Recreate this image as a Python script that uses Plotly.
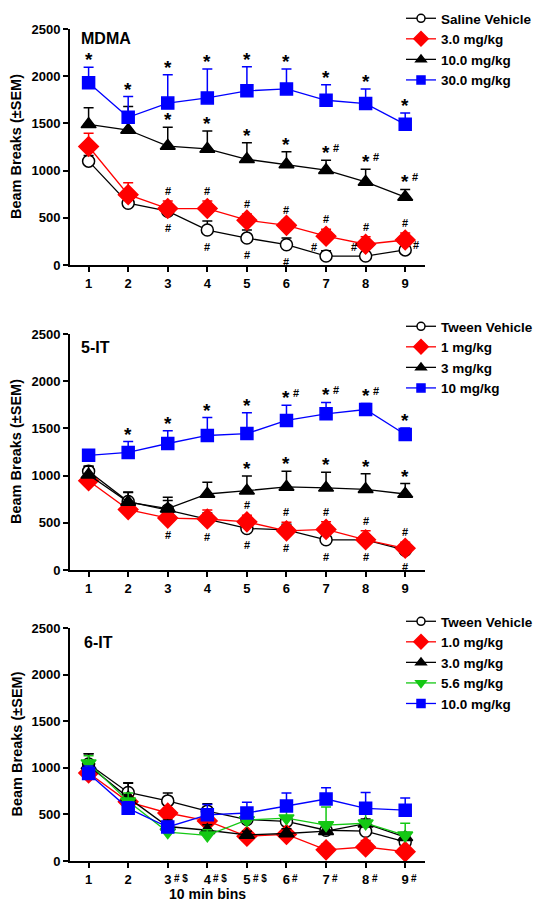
import plotly.graph_objects as go

bins = [1, 2, 3, 4, 5, 6, 7, 8, 9]
tick_labels = ["1", "2", "3", "4", "5", "6", "7", "8", "9"]

# ---- Panel 1: MDMA ----
mdma_names = ["Saline Vehicle", "3.0 mg/kg", "10.0 mg/kg", "30.0 mg/kg"]
mdma_sal = [1100, 655, 570, 370, 285, 215, 95, 95, 160]
mdma_sal_err = [60, 30, 70, 95, 85, 70, 55, 20, 50]
mdma_3 = [1255, 745, 598, 598, 475, 420, 305, 220, 265]
mdma_3_err = [140, 125, 80, 80, 65, 55, 75, 80, 75]
mdma_10 = [1490, 1430, 1260, 1230, 1120, 1065, 1005, 880, 720]
mdma_10_err = [175, 250, 200, 190, 175, 135, 105, 135, 80]
mdma_30 = [1930, 1565, 1715, 1770, 1845, 1865, 1745, 1710, 1490]
mdma_30_err = [165, 220, 300, 305, 255, 210, 165, 155, 120]

# ---- Panel 2: 5-IT ----
it5_names = ["Tween Vehicle", "1 mg/kg", "3 mg/kg", "10 mg/kg"]
it5_veh = [1045, 725, 635, 535, 440, 425, 320, 320, 210]
it5_veh_err = [55, 100, 100, 70, 60, 60, 50, 50, 50]
it5_1 = [945, 640, 550, 540, 510, 415, 430, 320, 230]
it5_1_err = [60, 50, 55, 95, 70, 90, 80, 95, 65]
it5_3 = [1010, 720, 650, 805, 840, 880, 870, 855, 805]
it5_3_err = [90, 100, 120, 125, 155, 165, 165, 165, 110]
it5_10 = [1215, 1245, 1340, 1425, 1445, 1585, 1655, 1700, 1435]
it5_10_err = [40, 115, 135, 190, 220, 160, 120, 65, 70]

# ---- Panel 3: 6-IT ----
it6_names = ["Tween Vehicle", "1.0 mg/kg", "3.0 mg/kg", "5.6 mg/kg", "10.0 mg/kg"]
it6_veh = [1040, 735, 645, 535, 445, 425, 330, 320, 205]
it6_veh_err = [110, 100, 85, 80, 60, 60, 50, 60, 50]
it6_1 = [945, 635, 515, 430, 265, 285, 120, 150, 100]
it6_1_err = [90, 50, 55, 55, 60, 40, 60, 70, 60]
it6_3 = [1025, 680, 370, 330, 280, 295, 320, 400, 255]
it6_3_err = [125, 160, 70, 60, 40, 50, 50, 50, 50]
it6_56 = [1050, 640, 310, 275, 440, 460, 385, 405, 275]
it6_56_err = [80, 90, 60, 60, 80, 90, 195, 130, 130]
it6_10 = [940, 565, 365, 495, 515, 590, 665, 565, 545]
it6_10_err = [80, 70, 60, 110, 115, 140, 120, 170, 130]
it6_tick_suffix = ["", "", "# $", "# $", "# $", "#", "#", "#", "#"]

# significance markers (bins)
mdma_star_30 = [1, 2, 3, 4, 5, 6, 7, 8, 9]
mdma_star_10 = [3, 4, 5, 6, 7, 8, 9]
mdma_hash_10 = [7, 8, 9]
mdma_hash_3 = [3, 4, 5, 6, 7, 8, 9]
mdma_hash_sal = [3, 4, 5, 6, 7, 8, 9]
it5_star_10 = [2, 3, 4, 5, 6, 7, 8, 9]
it5_hash_10 = [6, 7, 8]
it5_star_3 = [5, 6, 7, 8, 9]
it5_hash_1 = [5, 6, 7, 8, 9]
it5_hash_low = [3, 4, 5, 6, 7, 8, 9]

FONT = "Liberation Sans, Arial, sans-serif"
BLACK, RED, BLUE, GREEN = "#000000", "#ff0000", "#0000ff", "#14c814"

fig = go.Figure()


def add(name, vals, errs, color, symbol, size, xa, ya, leg, fill=None):
    fig.add_trace(go.Scatter(
        x=bins, y=vals, mode="lines+markers", name=name, showlegend=False,
        line=dict(color=color, width=1.3),
        marker=dict(symbol=symbol, size=size, color=fill or color,
                    line=dict(color=color, width=1.5)),
        error_y=dict(type="data", symmetric=False, array=errs,
                     arrayminus=[0] * len(errs), color=color,
                     thickness=1.5, width=5),
        xaxis=xa, yaxis=ya, cliponaxis=False))
    # legend entry with a smaller symbol, as in the original key
    fig.add_trace(go.Scatter(
        x=[None], y=[None], mode="lines+markers", name=name, showlegend=True,
        line=dict(color=color, width=1.3),
        marker=dict(symbol=symbol, size=max(size - 4, 8), color=fill or color,
                    line=dict(color=color, width=1.5)),
        xaxis=xa, yaxis=ya, legend=leg))


add(mdma_names[0], mdma_sal, mdma_sal_err, BLACK, "circle", 12, "x", "y", "legend", "white")
add(mdma_names[1], mdma_3, mdma_3_err, RED, "diamond", 15, "x", "y", "legend")
add(mdma_names[2], mdma_10, mdma_10_err, BLACK, "triangle-up", 13, "x", "y", "legend")
add(mdma_names[3], mdma_30, mdma_30_err, BLUE, "square", 12, "x", "y", "legend")

add(it5_names[0], it5_veh, it5_veh_err, BLACK, "circle", 12, "x2", "y2", "legend2", "white")
add(it5_names[1], it5_1, it5_1_err, RED, "diamond", 15, "x2", "y2", "legend2")
add(it5_names[2], it5_3, it5_3_err, BLACK, "triangle-up", 13, "x2", "y2", "legend2")
add(it5_names[3], it5_10, it5_10_err, BLUE, "square", 12, "x2", "y2", "legend2")

add(it6_names[0], it6_veh, it6_veh_err, BLACK, "circle", 12, "x3", "y3", "legend3", "white")
add(it6_names[1], it6_1, it6_1_err, RED, "diamond", 15, "x3", "y3", "legend3")
add(it6_names[2], it6_3, it6_3_err, BLACK, "triangle-up", 13, "x3", "y3", "legend3")
add(it6_names[3], it6_56, it6_56_err, GREEN, "triangle-down", 13, "x3", "y3", "legend3")
add(it6_names[4], it6_10, it6_10_err, BLUE, "square", 12, "x3", "y3", "legend3")

# layout geometry
W, H = 538, 902
ML, MR, MT, MB = 70, 113, 29, 41
PH = H - MT - MB


def py(px):
    return (H - MB - px) / PH


def pxx(px):
    return (px - ML) / (W - ML - MR)


doms = [(py(265), 1.0), (py(570), py(334)), (0.0, py(628))]

axis_common = dict(showline=True, linewidth=2, linecolor="black", ticks="outside",
                   ticklen=5, tickwidth=2, tickcolor="black", showgrid=False,
                   zeroline=False, tickfont=dict(family=FONT, size=13, color="black", weight="bold"))

layout = dict(width=W, height=H, margin=dict(l=ML, r=MR, t=MT, b=MB, autoexpand=False),
              paper_bgcolor="white", plot_bgcolor="white",
              font=dict(family=FONT, color="black"))
for i, (d0, d1) in enumerate(doms):
    sfx = "" if i == 0 else str(i + 1)
    layout["xaxis" + sfx] = dict(axis_common, domain=[0, 1], range=[0.53, 9.5],
                                 anchor="y" + sfx, tickvals=bins, ticktext=tick_labels)
    layout["yaxis" + sfx] = dict(axis_common, domain=[d0, d1], range=[0, 2500],
                                 anchor="x" + sfx, tickvals=[0, 500, 1000, 1500, 2000, 2500])

leg_common = dict(xanchor="left", yanchor="top", bgcolor="rgba(0,0,0,0)",
                  font=dict(family=FONT, size=13.5, color="black", weight="bold"),
                  tracegroupgap=0, itemwidth=30)
layout["legend"] = dict(leg_common, x=pxx(401), y=py(3))
layout["legend2"] = dict(leg_common, x=pxx(401), y=py(311))
layout["legend3"] = dict(leg_common, x=pxx(401), y=py(606))
fig.update_layout(**layout)

anns = []
# panel titles
for text, xp, yp in [("MDMA", 79, 39), ("5-IT", 79, 347), ("6-IT", 82, 642)]:
    anns.append(dict(text="<b>%s</b>" % text, xref="paper", yref="paper", x=pxx(xp), y=py(yp),
                     xanchor="left", yanchor="middle", showarrow=False,
                     font=dict(family=FONT, size=16, color="black")))
# y titles
for d0, d1 in doms:
    anns.append(dict(text="<b>Beam Breaks (\u00b1SEM)</b>", xref="paper", yref="paper",
                     x=pxx(16), y=(d0 + d1) / 2, textangle=-90, showarrow=False,
                     xanchor="center", yanchor="middle",
                     font=dict(family=FONT, size=14.5, color="black")))
# x title
anns.append(dict(text="<b>10 min bins</b>", xref="paper", yref="paper", x=pxx(207), y=py(894),
                 xanchor="center", yanchor="middle", showarrow=False,
                 font=dict(family=FONT, size=14, color="black")))
# tick suffixes panel 3
for b, s in zip(bins, it6_tick_suffix):
    if s:
        anns.append(dict(text="<b>%s</b>" % s, xref="x3", yref="paper", x=b, y=py(878),
                         xanchor="left", yanchor="middle", xshift=4, showarrow=False,
                         font=dict(family=FONT, size=10, color="black")))


def star(xr, yr, b, v, hash_after=False):
    anns.append(dict(text="<b>*</b>", xref=xr, yref=yr, x=b, y=v, xanchor="center",
                     yanchor="bottom", yshift=-5, showarrow=False,
                     font=dict(family=FONT, size=19, color="black")))
    if hash_after:
        anns.append(dict(text="<b>#</b>", xref=xr, yref=yr, x=b, y=v, xanchor="left",
                         yanchor="bottom", yshift=4, xshift=5, showarrow=False,
                         font=dict(family=FONT, size=11, color="black")))


def hash_(xr, yr, b, v, above=True, xshift=0, yshift=0, anchor=None):
    anns.append(dict(text="<b>#</b>", xref=xr, yref=yr, x=b, y=v, xanchor="center",
                     yanchor=anchor or ("bottom" if above else "top"),
                     yshift=(2 if above else -9) + yshift, xshift=xshift, showarrow=False,
                     font=dict(family=FONT, size=11, color="black")))


def top(vals, errs, b):
    return vals[b - 1] + errs[b - 1]


for b in mdma_star_30:
    star("x", "y", b, top(mdma_30, mdma_30_err, b))
for b in mdma_star_10:
    star("x", "y", b, top(mdma_10, mdma_10_err, b), b in mdma_hash_10)
for b in mdma_hash_3:
    hash_("x", "y", b, top(mdma_3, mdma_3_err, b))
for b in mdma_hash_sal:
    if b in (7, 8):
        hash_("x", "y", b, mdma_sal[b - 1], xshift=-12, yshift=7, anchor="middle")
    elif b == 9:
        hash_("x", "y", b, mdma_sal[b - 1], xshift=11, yshift=3, anchor="middle")
    else:
        hash_("x", "y", b, mdma_sal[b - 1], above=False)

for b in it5_star_10:
    star("x2", "y2", b, top(it5_10, it5_10_err, b), b in it5_hash_10)
for b in it5_star_3:
    star("x2", "y2", b, top(it5_3, it5_3_err, b))
for b in it5_hash_1:
    hash_("x2", "y2", b, top(it5_1, it5_1_err, b))
for b in it5_hash_low:
    low = min(it5_veh[b - 1], it5_1[b - 1])
    hash_("x2", "y2", b, low, above=False)

fig.update_layout(annotations=anns)
fig.write_html("out.html", config={"displayModeBar": False},
               post_script="document.body.style.margin='0';document.body.style.overflow='hidden';")
